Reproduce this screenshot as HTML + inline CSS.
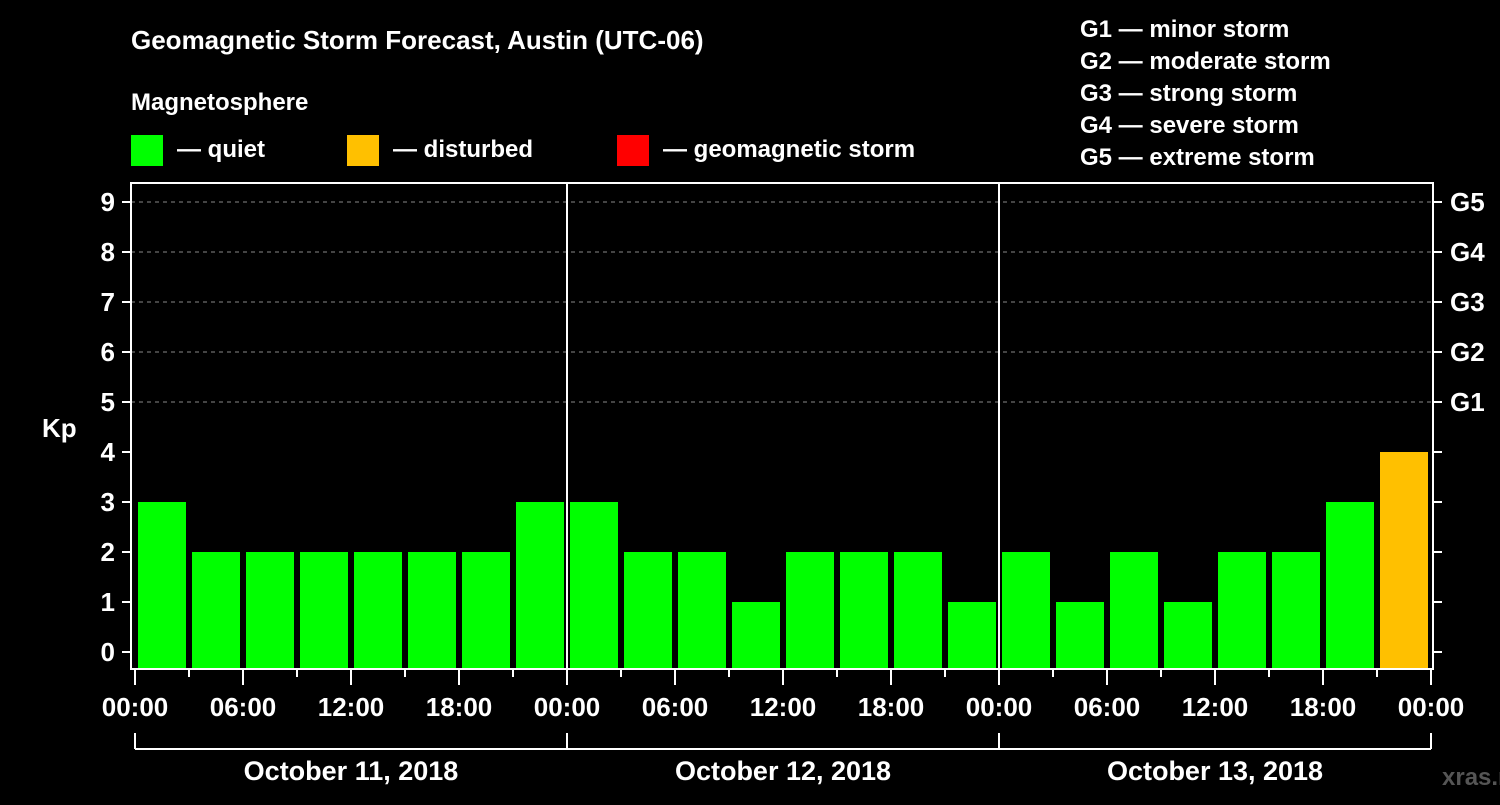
<!DOCTYPE html>
<html><head><meta charset="utf-8"><style>
html,body{margin:0;padding:0;background:#000;}
svg text{font-family:"Liberation Sans",sans-serif;font-weight:bold;fill:#fff;}
</style></head><body>
<svg id="chart" width="1500" height="800" xmlns="http://www.w3.org/2000/svg">
<rect width="1500" height="800" fill="#000"/>
<text x="131" y="49" font-size="26">Geomagnetic Storm Forecast, Austin (UTC-06)</text>
<text x="131" y="110" font-size="24">Magnetosphere</text>
<g><rect x="131" y="135" width="32" height="31" fill="#00ff00"/><text x="177" y="157" font-size="24">— quiet</text></g>
<g><rect x="347" y="135" width="32" height="31" fill="#ffc000"/><text x="393" y="157" font-size="24">— disturbed</text></g>
<g><rect x="617" y="135" width="32" height="31" fill="#ff0000"/><text x="663" y="157" font-size="24">— geomagnetic storm</text></g>
<g font-size="24">
<text x="1080" y="37">G1 — minor storm</text>
<text x="1080" y="69">G2 — moderate storm</text>
<text x="1080" y="101">G3 — strong storm</text>
<text x="1080" y="133">G4 — severe storm</text>
<text x="1080" y="165">G5 — extreme storm</text>
</g>
<text x="42" y="437" font-size="26">Kp</text>
<text x="1442" y="785" font-size="24" fill="#555" style="fill:#555">xras.ru</text>
<g id="plot"></g>
</svg>
<script>
const kpValues = [3,2,2,2,2,2,2,3, 3,2,2,1,2,2,2,1, 2,1,2,1,2,2,3,4];
const yTicks = [0,1,2,3,4,5,6,7,8,9];
const gLabels = ["G1","G2","G3","G4","G5"];
const xTickLabels = ["00:00","06:00","12:00","18:00","00:00","06:00","12:00","18:00","00:00","06:00","12:00","18:00","00:00"];
const dayLabels = ["October 11, 2018","October 12, 2018","October 13, 2018"];

const NS="http://www.w3.org/2000/svg";
const plot=document.getElementById('plot');
const X0=135, SLOT=54, L=131, R=1433, T=183, B=669;
const y=v=>652-50*v;
const x=i=>X0+SLOT*i;
function mk(tag,attrs,parent){const e=document.createElementNS(NS,tag);for(const k in attrs)e.setAttribute(k,attrs[k]);(parent||plot).appendChild(e);return e;}
const color=v=>v>=5?"#ff0000":(v>=4?"#ffc000":"#00ff00");

// grid lines
for(let v=5;v<=9;v++){const l=mk('line',{x1:L,x2:R,y1:y(v),y2:y(v),stroke:'#888','stroke-width':1,'stroke-dasharray':'4,4'});

}
// bars
kpValues.forEach((v,i)=>{const r=mk('rect',{x:x(i)+3,y:y(v),width:48,height:B-y(v),fill:color(v)});

});
// day separators
for(let d=1;d<3;d++){const l=mk('line',{x1:x(d*8),x2:x(d*8),y1:T,y2:B,stroke:'#fff','stroke-width':2});

}
// frame
const f=mk('rect',{x:L,y:T,width:R-L,height:B-T,fill:'none',stroke:'#fff','stroke-width':2});


// y ticks
yTicks.forEach(v=>{mk('line',{x1:122,x2:L,y1:y(v),y2:y(v),stroke:'#fff','stroke-width':2});
const t=mk('text',{x:115,y:y(v)+9,'font-size':26,'text-anchor':'end'});t.textContent=v;


mk('line',{x1:R,x2:1442,y1:y(v),y2:y(v),stroke:'#fff','stroke-width':2});});
gLabels.forEach((g,i)=>{const t=mk('text',{x:1450,y:y(5+i)+9,'font-size':26});t.textContent=g;

});
// x ticks
for(let i=0;i<=24;i++){const major=i%2===0;mk('line',{x1:x(i),x2:x(i),y1:B,y2:major?685:677,stroke:'#fff','stroke-width':2});}
xTickLabels.forEach((s,i)=>{const t=mk('text',{x:x(i*2),y:716,'font-size':26,'text-anchor':'middle'});t.textContent=s;

});
// date bracket
mk('line',{x1:x(0),x2:x(24),y1:749,y2:749,stroke:'#fff','stroke-width':2});
for(let d=0;d<=3;d++)mk('line',{x1:x(d*8),x2:x(d*8),y1:733,y2:749,stroke:'#fff','stroke-width':2});
dayLabels.forEach((s,d)=>{const t=mk('text',{x:x(d*8+4),y:780,'font-size':27,'text-anchor':'middle'});t.textContent=s;

});
</script>
</body></html>
